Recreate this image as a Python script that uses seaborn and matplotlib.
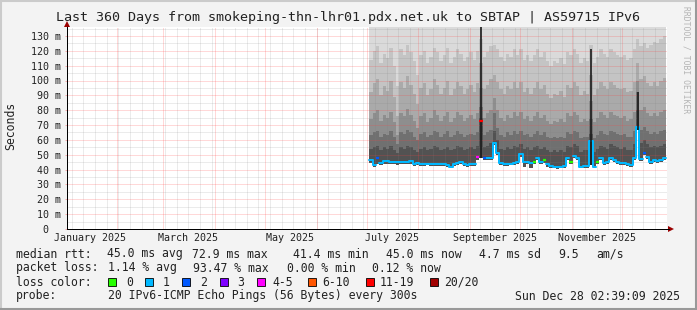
import numpy as np
import pandas as pd
import matplotlib
matplotlib.use("Agg")
import matplotlib.pyplot as plt
import matplotlib.dates as mdates
from matplotlib.patches import Polygon, Rectangle
from matplotlib.lines import Line2D
import seaborn as sns

# ---------------- data ----------------
title = "Last 360 Days from smokeping-thn-lhr01.pdx.net.uk to SBTAP | AS59715 IPv6"
x_start = "2025-01-02 02:39:09"
x_end = "2025-12-28 02:39:09"
first_bin = "2025-07-03 12:00"
n_bins = 89

median_ms = [46.5, 43.1, 47.8, 44.4, 45.5, 45.8, 45.1, 45.1, 44.8, 45.1,
             45.0, 45.4, 45.8, 43.8, 44.2, 43.8, 43.8, 44.0, 43.8, 43.6,
             43.8, 43.8, 43.5, 43.0, 41.8, 43.8, 44.4, 45.1, 43.8, 43.1,
             43.8, 43.8, 48.5, 72.9, 47.8, 47.8, 47.8, 57.9, 51.2, 44.4,
             43.6, 43.8, 44.0, 44.4, 45.0, 50.5, 45.0, 45.0, 44.4, 45.0,
             48.0, 45.0, 46.5, 44.0, 42.5, 42.0, 41.8, 42.0, 42.2, 48.0,
             45.0, 49.0, 48.0, 42.0, 42.2, 42.5, 59.3, 42.0, 45.0, 48.0,
             44.4, 45.0, 48.0, 46.5, 45.0, 44.4, 44.4, 43.5, 43.0, 48.0,
             68.7, 47.0, 51.0, 48.5, 45.0, 46.5, 45.8, 46.5, 47.8]

min_ms = [44.5, 42.0, 44.0, 43.0, 43.8, 44.0, 43.5, 43.6, 43.2, 43.5,
          43.6, 43.8, 44.0, 42.6, 42.8, 42.5, 42.6, 42.8, 42.5, 42.3,
          42.5, 42.4, 42.2, 41.8, 40.8, 42.5, 43.0, 43.6, 42.5, 41.8,
          42.5, 42.5, 46.5, 47.5, 46.8, 46.8, 46.8, 56.5, 50.0, 43.0,
          42.3, 42.5, 42.8, 43.0, 43.6, 48.5, 42.0, 43.5, 41.0, 43.5,
          46.5, 43.5, 44.5, 42.0, 41.2, 40.8, 40.6, 40.8, 41.0, 46.5,
          43.5, 47.5, 46.5, 40.8, 41.0, 41.2, 43.0, 40.8, 43.5, 46.5,
          43.0, 43.6, 46.5, 45.0, 43.6, 43.0, 43.0, 42.2, 41.8, 46.5,
          66.5, 45.5, 49.5, 47.0, 43.6, 45.0, 44.5, 45.0, 46.5]

smoke_l1 = [54, 55, 56, 53, 55, 54, 56, 53, 51, 55,
            54, 56, 55, 53, 52, 54, 55, 53, 54, 56,
            55, 53, 54, 55, 53, 54, 56, 55, 53, 54,
            55, 54, 56, 75, 55, 56, 58, 66, 60, 54,
            53, 55, 54, 56, 55, 57, 54, 55, 53, 55,
            56, 54, 55, 53, 52, 53, 52, 53, 52, 56,
            55, 57, 56, 52, 53, 53, 64, 52, 54, 56,
            55, 54, 57, 56, 55, 54, 55, 53, 53, 57,
            80, 58, 60, 57, 55, 56, 55, 56, 57]
smoke_l2 = [63, 65, 66, 62, 64, 63, 66, 62, 57, 65,
            64, 67, 65, 62, 60, 64, 65, 62, 63, 66,
            65, 62, 64, 66, 62, 63, 66, 64, 62, 63,
            64, 63, 65, 82, 63, 65, 67, 78, 68, 63,
            62, 65, 63, 66, 64, 66, 63, 64, 62, 64,
            66, 63, 65, 62, 61, 62, 61, 62, 61, 65,
            64, 66, 65, 61, 62, 62, 74, 61, 63, 66,
            64, 63, 66, 65, 64, 63, 64, 62, 62, 66,
            92, 67, 69, 66, 64, 65, 64, 66, 67]
smoke_l3 = [74, 78, 80, 73, 77, 75, 79, 72, 63, 78,
            76, 81, 77, 73, 68, 76, 78, 72, 75, 80,
            77, 73, 76, 79, 72, 75, 79, 77, 73, 75,
            77, 74, 78, 95, 75, 78, 80, 88, 80, 75,
            73, 77, 75, 79, 76, 79, 74, 76, 73, 76,
            79, 75, 77, 73, 71, 73, 72, 74, 72, 78,
            76, 79, 77, 72, 74, 73, 86, 72, 75, 79,
            77, 75, 79, 77, 76, 75, 76, 73, 74, 79,
            100, 80, 82, 78, 76, 78, 76, 79, 80]
smoke_l4 = [92, 98, 101, 90, 96, 93, 100, 89, 76, 99,
            95, 103, 97, 91, 84, 95, 98, 90, 94, 101,
            97, 91, 95, 100, 90, 94, 99, 96, 91, 94,
            97, 92, 98, 112, 94, 97, 101, 104, 99, 94,
            91, 96, 94, 99, 95, 99, 92, 95, 91, 95,
            99, 94, 97, 91, 88, 91, 90, 93, 89, 97,
            95, 99, 96, 90, 93, 91, 104, 90, 94, 99,
            96, 94, 99, 97, 95, 94, 95, 92, 93, 99,
            112, 101, 103, 98, 96, 99, 96, 100, 102]
smoke_l5 = [114, 120, 123, 112, 118, 115, 122, 110, 96, 121,
            117, 124, 119, 113, 104, 117, 120, 112, 116, 122,
            119, 113, 117, 122, 112, 116, 121, 118, 113, 116,
            119, 114, 120, 128, 116, 119, 123, 124, 121, 116,
            113, 118, 116, 121, 117, 121, 114, 117, 113, 117,
            121, 116, 119, 113, 110, 113, 112, 115, 111, 119,
            117, 121, 118, 112, 115, 113, 124, 112, 116, 121,
            118, 116, 121, 119, 117, 116, 117, 114, 115, 121,
            128, 123, 125, 122, 124, 126, 125, 128, 130]
smoke_max = [140, 140, 140, 140, 140, 140, 140, 140, 140, 140,
             140, 140, 140, 140, 140, 140, 140, 140, 140, 140,
             140, 140, 140, 140, 140, 140, 140, 140, 140, 140,
             140, 140, 140, 140, 140, 140, 140, 140, 140, 140,
             140, 140, 140, 140, 140, 140, 140, 140, 140, 140,
             140, 140, 140, 140, 140, 140, 140, 140, 140, 140,
             140, 140, 140, 140, 140, 140, 140, 140, 140, 140,
             140, 140, 140, 140, 140, 140, 140, 140, 140, 140,
             140, 140, 140, 140, 140, 140, 140, 140, 140]

# loss class per bin: index into loss_labels
loss_class = [1, 1, 2, 1, 1, 1, 1, 1, 1, 1,
              1, 1, 1, 1, 1, 1, 1, 1, 1, 1,
              1, 1, 1, 1, 1, 1, 1, 1, 1, 1,
              1, 1, 4, 6, 2, 1, 1, 1, 1, 1,
              1, 1, 1, 1, 1, 1, 1, 1, 1, 0,
              1, 1, 0, 1, 1, 1, 1, 1, 1, 1,
              0, 1, 1, 1, 1, 1, 1, 1, 0, 1,
              1, 1, 1, 1, 1, 1, 1, 1, 1, 1,
              1, 1, 2, 1, 1, 1, 1, 1, 1]

spike_bins = [33, 66, 80]
spike_low = [47.5, 43.0, 66.5]
spike_high = [140, 121, 92]

loss_labels = ["0", "1", "2", "3", "4-5", "6-10", "11-19", "20/20"]
loss_colors = ["#26ff00", "#00b8ff", "#0059ff", "#7e00ff",
               "#ff00ff", "#ff5500", "#ff0000", "#a10000"]

month_labels = ["January 2025", "March 2025", "May 2025",
                "July 2025", "September 2025", "November 2025"]
month_label_at = ["2025-01-16", "2025-03-16", "2025-05-16",
                  "2025-07-16", "2025-09-16", "2025-11-16"]
y_ticks = [0, 10, 20, 30, 40, 50, 60, 70, 80, 90, 100, 110, 120, 130]
y_ticklabels = ["0  ", "10 m", "20 m", "30 m", "40 m", "50 m", "60 m", "70 m",
                "80 m", "90 m", "100 m", "110 m", "120 m", "130 m"]

stats_rtt = ["45.0 ms avg", "72.9 ms max", "41.4 ms min", "45.0 ms now",
             "4.7 ms sd", "9.5", "am/s"]
stats_loss = ["1.14 % avg", "93.47 % max", "0.00 % min", "0.12 % now"]
probe_text = "20 IPv6-ICMP Echo Pings (56 Bytes) every 300s"
stamp_text = "Sun Dec 28 02:39:09 2025"

# ---------------- figure ----------------
sns.set_theme(style="white")
plt.rcParams['font.family'] = ['DejaVu Sans Mono', 'DejaVu Sans']

W, H = 697, 310
L, R, T, B = 67, 667, 27, 229
fig = plt.figure(figsize=(W / 100, H / 100), dpi=100, facecolor="#f3f3f3")
ax = fig.add_axes([L / W, 1 - B / H, (R - L) / W, (B - T) / H])
ax.set_facecolor("white")

def fx(px):
    return px / W

def fy(py):
    return 1 - py / H

bins = mdates.date2num(pd.date_range(first_bin, periods=n_bins, freq="2D"))
bw = 2.0
med = np.array(median_ms)
lo = np.array(min_ms)
levels = [lo, np.array(smoke_l1), np.array(smoke_l2), np.array(smoke_l3),
          np.array(smoke_l4), np.array(smoke_l5), np.array(smoke_max)]
smoke_cols = ["#525252", "#707070", "#8e8e8e", "#aaaaaa", "#c4c4c4", "#dadada"]
for k in range(6):
    ax.bar(bins, levels[k + 1] - levels[k], bottom=levels[k], width=bw,
           color=smoke_cols[k], linewidth=0, antialiased=False, zorder=1)

# grid (dotted, drawn over the smoke like rrdtool does)
minor_c = (0.5, 0.5, 0.5, 0.30)
major_c = (1.0, 0.25, 0.25, 0.40)
dot = (0, (1.0, 1.0))
gkw = dict(lw=0.72, ls=dot, antialiased=True)
for d in pd.date_range("2025-01-05", "2025-12-27", freq="7D"):
    ax.axvline(mdates.date2num(d), color=minor_c, zorder=2.5, **gkw)
for v in range(5, 136, 10):
    ax.axhline(v, color=minor_c, zorder=2.5, **gkw)
for d in pd.date_range("2025-02-01", "2025-12-01", freq="MS"):
    ax.axvline(mdates.date2num(d), color=major_c, zorder=2.6, **gkw)
for v in range(10, 131, 10):
    ax.axhline(v, color=major_c, zorder=2.6, **gkw)

# median line: one step line per run of bins in the "1" loss class
rows = []
seg = 0
prev = None
for i in range(n_bins):
    c = loss_class[i]
    if c == 1:
        if prev != 1:
            seg += 1
        rows.append((bins[i] - bw / 2, med[i], seg))
        if i == n_bins - 1 or loss_class[i + 1] != 1:
            rows.append((bins[i] + bw / 2, med[i], seg))
    prev = c
df = pd.DataFrame(rows, columns=["t", "median", "seg"])
sns.lineplot(data=df, x="t", y="median", units="seg", estimator=None, ax=ax,
             drawstyle="steps-post", color=loss_colors[1], lw=1.45, zorder=4,
             sort=False)
sb = np.array(spike_bins)
ax.vlines(bins[sb], spike_low, spike_high, color="#1a1a1a", lw=1.2, zorder=4.5)
for i, c in enumerate(loss_class):
    if c != 1:
        ax.hlines(med[i], bins[i] - bw / 2, bins[i] + bw / 2, color=loss_colors[c],
                  lw=1.6, zorder=5)

ax.set_xlim(mdates.date2num(pd.Timestamp(x_start)), mdates.date2num(pd.Timestamp(x_end)))
ax.set_ylim(0, (B - T) / 1.485)
ax.set_xlabel("")
ax.set_ylabel("")

ax.set_yticks(y_ticks)
ax.set_yticklabels(y_ticklabels, fontsize=7.2, color="#222222")
ax.set_xticks(mdates.date2num(pd.to_datetime(month_label_at)))
ax.set_xticklabels(month_labels, fontsize=7.2, color="#222222")
ax.tick_params(axis="y", length=1.5, width=0.72, color=major_c, pad=2.9, left=True)
ax.tick_params(axis="x", length=0, pad=3.0, bottom=True)
for s in ["top", "right"]:
    ax.spines[s].set_visible(False)
for s in ["left", "bottom"]:
    ax.spines[s].set_color("black")
    ax.spines[s].set_linewidth(0.72)
    ax.spines[s].set_zorder(6)

arrow_c = "#9a0000"
fig.add_artist(Polygon([(fx(67), fy(21)), (fx(64), fy(27)), (fx(70), fy(27))],
                       closed=True, transform=fig.transFigure, color=arrow_c, lw=0))
fig.add_artist(Polygon([(fx(674), fy(229)), (fx(668), fy(226)), (fx(668), fy(232))],
                       closed=True, transform=fig.transFigure, color=arrow_c, lw=0))
fig.add_artist(Line2D([fx(667), fx(669)], [fy(229), fy(229)], transform=fig.transFigure,
                      color="black", lw=0.72))

# texts
txt_c = "#222222"
fig.text(0.5, fy(18), title, ha="center", va="center", fontsize=9.6, color=txt_c)
fig.text(fx(11), fy(126), "Seconds", rotation=90, ha="center", va="center",
         fontsize=8.3, color=txt_c)
fig.text(fx(686), fy(60), "RRDTOOL / TOBI OETIKER", rotation=270, ha="center",
         va="center", fontsize=5.8, color="#b4b4b4")

lfs = 8.3
row1 = [16, 107, 192, 293, 386, 479, 558, 596]
fig.text(fx(row1[0]), fy(254), "median rtt:", ha="left", va="center", fontsize=lfs, color=txt_c)
for xp, s in zip(row1[1:], stats_rtt):
    fig.text(fx(xp), fy(254), s, ha="left", va="center", fontsize=lfs, color=txt_c)
row2 = [16, 108, 193, 287, 372]
fig.text(fx(row2[0]), fy(268), "packet loss:", ha="left", va="center", fontsize=lfs, color=txt_c)
for xp, s in zip(row2[1:], stats_loss):
    fig.text(fx(xp), fy(268), s, ha="left", va="center", fontsize=lfs, color=txt_c)
fig.text(fx(16), fy(282), "loss color:", ha="left", va="center", fontsize=lfs, color=txt_c)
box_x = [108, 145, 182, 220, 257, 308, 366, 430]
lab_x = [126, 163, 200, 237, 272, 322, 380, 444]
for bx, lx, lab, col in zip(box_x, lab_x, loss_labels, loss_colors):
    fig.add_artist(Rectangle((fx(bx), fy(286)), 8 / W, 8 / H, transform=fig.transFigure,
                             facecolor=col, edgecolor="black", lw=0.6))
    fig.text(fx(lx), fy(282), lab, ha="left", va="center", fontsize=lfs, color=txt_c)
fig.text(fx(16), fy(296), "probe:", ha="left", va="center", fontsize=lfs, color=txt_c)
fig.text(fx(108), fy(296), probe_text, ha="left", va="center", fontsize=lfs, color=txt_c)
fig.text(fx(680), fy(296), stamp_text, ha="right", va="center", fontsize=lfs, color=txt_c)

# frame
fig.add_artist(Line2D([0, 1], [fy(0.5), fy(0.5)], transform=fig.transFigure, color="#cbcbcb", lw=1.5))
fig.add_artist(Line2D([fx(0.5), fx(0.5)], [0, 1], transform=fig.transFigure, color="#cbcbcb", lw=1.5))
fig.add_artist(Line2D([0, 1], [fy(309), fy(309)], transform=fig.transFigure, color="#999999", lw=1.5))
fig.add_artist(Line2D([fx(696), fx(696)], [0, 1], transform=fig.transFigure, color="#999999", lw=1.5))

fig.savefig("out.png", dpi=100, facecolor=fig.get_facecolor())
